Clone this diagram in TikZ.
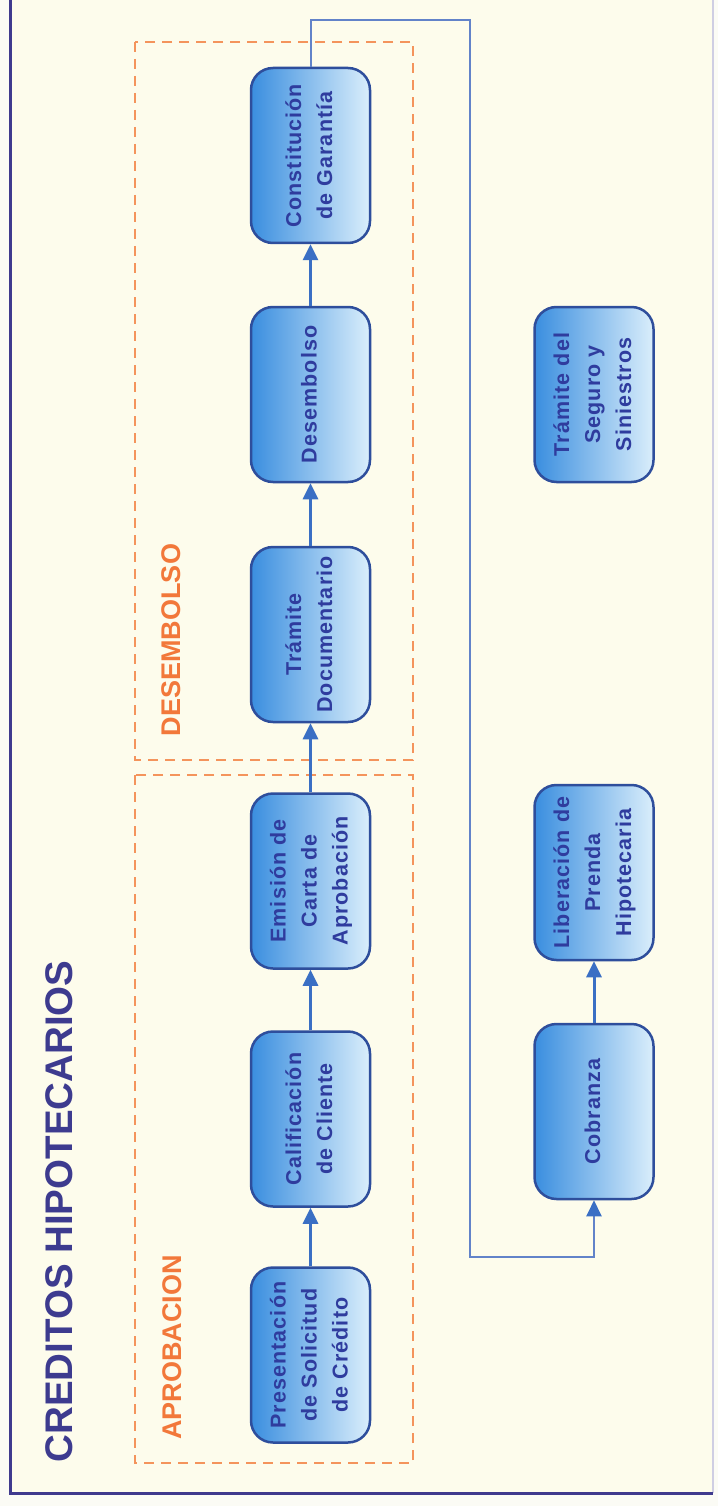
\documentclass[tikz,border=0pt]{standalone}
\usepackage{fontspec}
\setmainfont{Liberation Sans}
\usetikzlibrary{arrows.meta}

\definecolor{paper}{HTML}{FDFCEC}
\definecolor{margin}{HTML}{FBFBF5}
\definecolor{frame}{HTML}{3F3A8E}
\definecolor{titlec}{HTML}{3D3B8F}
\definecolor{boxtext}{HTML}{2F3C9E}
\definecolor{boxedge}{HTML}{2E4E9C}
\definecolor{boxdark}{HTML}{3A8EDF}
\definecolor{boxlight}{HTML}{DAEEFB}
\definecolor{flow}{HTML}{3A6FC4}
\definecolor{link}{HTML}{6283C9}
\definecolor{phase}{HTML}{F4945C}
\definecolor{phasetext}{HTML}{F2783A}

% multi-line text turned to read from bottom to top
\newcommand{\vtext}[1]{\rotatebox{90}{\begin{tabular}{@{}c@{}}#1\end{tabular}}}

\begin{document}
\begin{tikzpicture}[x=1pt,y=-1pt,
  stepbox/.style={draw=boxedge, line width=2.5pt, rounded corners=22pt,
    left color=boxdark, right color=boxlight,
    minimum width=119pt, minimum height=175pt, inner sep=0pt,
    text=boxtext,
    font=\fontsize{21.5}{31}\selectfont\bfseries\addfontfeatures{LetterSpace=5}},
  flowarrow/.style={draw=flow, line width=3pt, -{Triangle[length=16pt,width=15pt]}},
  linkline/.style={draw=link, line width=2pt, line join=miter},
  phasebox/.style={draw=phase, line width=2pt, dash pattern=on 10pt off 7pt},
  phaselabel/.style={text=phasetext, inner sep=0pt,
    font=\fontsize{27}{27}\selectfont\bfseries},
]
\useasboundingbox (0,0) rectangle (718,1506);

% paper and frame
\fill[margin] (0,0) rectangle (718,1506);
\fill[paper] (10,0) rectangle (713,1493);
\draw[frame!25, line width=1.5pt] (713,0) -- (713,1493);
\draw[frame, line width=3pt] (10,0) -- (10,1493) -- (713,1493);

% title
\node[text=titlec, inner sep=0pt, font=\fontsize{38.5}{40}\selectfont\bfseries]
  (title) at (59,1211.5) {\rotatebox{90}{CREDITOS HIPOTECARIOS}};

% phases
\draw[phasebox] (135,42) rectangle (413,760);
\draw[phasebox] (135,775) rectangle (413,1463);
\node[phaselabel] (lbldes) at (171,640) {\rotatebox{90}{DESEMBOLSO}};
\node[phaselabel] (lblapr) at (172,1347.5) {\rotatebox{90}{APROBACION}};

% process steps
\node[stepbox] (pres)  at (310.5,1355) {\vtext{Presentación\\de Solicitud\\de Crédito}};
\node[stepbox] (calif) at (310.5,1119) {\vtext{Calificación\\de Cliente}};
\node[stepbox] (emis)  at (310.5,881)  {\vtext{Emisión de\\Carta de\\Aprobación}};
\node[stepbox] (tram)  at (310.5,634.5) {\vtext{Trámite\\Documentario}};
\node[stepbox] (desem) at (310.5,394.5) {\vtext{Desembolso}};
\node[stepbox] (const) at (310.5,155.5) {\vtext{Constitución\\de Garantía}};

\node[stepbox] (cobr)  at (594,1111.5) {\vtext{Cobranza}};
\node[stepbox] (liber) at (594,872.5)  {\vtext{Liberación de\\Prenda\\Hipotecaria}};
\node[stepbox] (seg)   at (594,394.5)  {\vtext{Trámite del\\Seguro y\\Siniestros}};

% main flow
\draw[flowarrow] (pres.north)  -- (calif.south);
\draw[flowarrow] (calif.north) -- (emis.south);
\draw[flowarrow] (emis.north)  -- (tram.south);
\draw[flowarrow] (tram.north)  -- (desem.south);
\draw[flowarrow] (desem.north) -- (const.south);

% return link to collection
\coordinate (turnA) at (470,20);
\coordinate (turnB) at (470,1257);
\draw[linkline, -{Triangle[length=16pt,width=15pt,color=flow]}]
  (const.north) |- (turnA) -- (turnB) -| (cobr.south);
\draw[flowarrow] (cobr.north) -- (liber.south);
\end{tikzpicture}
\end{document}
